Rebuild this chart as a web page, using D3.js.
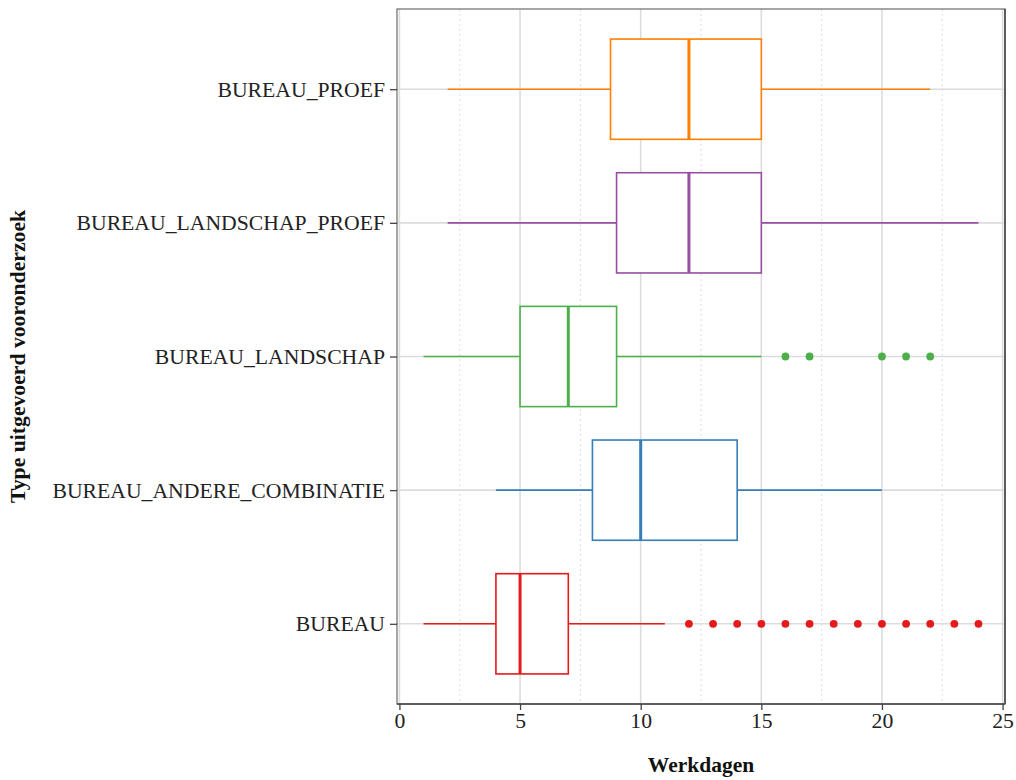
<!DOCTYPE html>
<html><head><meta charset="utf-8">
<script src="https://cdn.jsdelivr.net/npm/d3@7"></script>
<style>body{margin:0;background:#fff}svg{display:block}</style>
</head><body>
<script>
const categories = ["BUREAU", "BUREAU_ANDERE_COMBINATIE", "BUREAU_LANDSCHAP", "BUREAU_LANDSCHAP_PROEF", "BUREAU_PROEF"];
const colors = ["#E41A1C", "#377EB8", "#4DAF4A", "#984EA3", "#FF7F00"];
const whiskerLow = [1, 4, 1, 2, 2];
const q1 = [4, 8, 5, 9, 8.75];
const median = [5, 10, 7, 12, 12];
const q3 = [7, 14, 9, 15, 15];
const whiskerHigh = [11, 20, 15, 24, 22];
const outliers = [
  [12, 13, 14, 15, 16, 17, 18, 19, 20, 21, 22, 23, 24],
  [],
  [16, 17, 20, 21, 22],
  [],
  []
];
const xTicks = [0, 5, 10, 15, 20, 25];
const xMinor = [2.5, 7.5, 12.5, 17.5, 22.5];

const W = 1016, H = 780;
const m = {left: 397, right: 11, top: 9, bottom: 76};
const svg = d3.select("body").append("svg").attr("width", W).attr("height", H);
const pw = W - m.left - m.right, ph = H - m.top - m.bottom;
const g = svg.append("g").attr("transform", `translate(${m.left},${m.top})`);
const FONT = "'Liberation Serif', 'Times New Roman', serif";

const x = d3.scaleLinear().domain([-0.1, 25.1]).range([0, pw]);
const y = d3.scalePoint().domain(categories.slice().reverse()).range([0, ph]).padding(0.6);
const step = y.step();
const bw = step * 0.75;

// grid
g.selectAll(".minor").data(xMinor).join("line")
  .attr("x1", d => x(d)).attr("x2", d => x(d)).attr("y1", 0).attr("y2", ph)
  .attr("stroke", "#d4d4d4").attr("stroke-width", 0.8).attr("stroke-dasharray", "2,3");
g.selectAll(".major").data(xTicks).join("line")
  .attr("x1", d => x(d)).attr("x2", d => x(d)).attr("y1", 0).attr("y2", ph)
  .attr("stroke", "#dcdcdc").attr("stroke-width", 1.6);
g.selectAll(".hgrid").data(categories).join("line")
  .attr("x1", 0).attr("x2", pw).attr("y1", d => y(d)).attr("y2", d => y(d))
  .attr("stroke", "#dcdcdc").attr("stroke-width", 1.6);

// boxes
categories.forEach((c, i) => {
  const cy = y(c), col = colors[i];
  const gg = g.append("g").attr("stroke", col).attr("fill", "none");
  gg.append("line").attr("x1", x(whiskerLow[i])).attr("x2", x(q1[i])).attr("y1", cy).attr("y2", cy).attr("stroke-width", 1.6);
  gg.append("line").attr("x1", x(q3[i])).attr("x2", x(whiskerHigh[i])).attr("y1", cy).attr("y2", cy).attr("stroke-width", 1.6);
  gg.append("rect").attr("x", x(q1[i])).attr("y", cy - bw / 2).attr("width", x(q3[i]) - x(q1[i])).attr("height", bw)
    .attr("fill", "#fff").attr("stroke-width", 1.6);
  gg.append("line").attr("x1", x(median[i])).attr("x2", x(median[i])).attr("y1", cy - bw / 2).attr("y2", cy + bw / 2).attr("stroke-width", 3);
  g.selectAll(null).data(outliers[i]).join("circle")
    .attr("cx", d => x(d)).attr("cy", cy).attr("r", 3.9).attr("fill", col);
});

// border
g.append("rect").attr("x", 0).attr("y", 0).attr("width", pw).attr("height", ph)
  .attr("fill", "none").attr("stroke", "#777").attr("stroke-width", 1.3);
g.append("line").attr("x1", 0).attr("x2", pw).attr("y1", ph).attr("y2", ph).attr("stroke", "#444").attr("stroke-width", 1.5);
g.append("line").attr("x1", pw).attr("x2", pw).attr("y1", 0).attr("y2", ph).attr("stroke", "#444").attr("stroke-width", 1.5);

// axes
const xa = g.append("g").attr("transform", `translate(0,${ph})`)
  .call(d3.axisBottom(x).tickValues(xTicks).tickSize(6).tickPadding(3));
xa.select(".domain").remove();
xa.selectAll("line").attr("stroke", "#444").attr("stroke-width", 1.3);
xa.selectAll("text").attr("font-family", FONT).attr("font-size", 21.7).attr("fill", "#222");

const ya = g.append("g").call(d3.axisLeft(y).tickSize(7).tickPadding(5));
ya.select(".domain").remove();
ya.selectAll("line").attr("stroke", "#444").attr("stroke-width", 1.3);
ya.selectAll("text").attr("font-family", FONT).attr("font-size", 21.7).attr("fill", "#222");

svg.append("text").attr("x", m.left + pw / 2).attr("y", 772).attr("text-anchor", "middle")
  .attr("font-family", FONT).attr("font-size", 21.5).attr("font-weight", "bold").attr("fill", "#111")
  .text("Werkdagen");
svg.append("text").attr("transform", `translate(25,${m.top + ph / 2}) rotate(-90)`).attr("text-anchor", "middle")
  .attr("font-family", FONT).attr("font-size", 21.7).attr("font-weight", "bold").attr("fill", "#111")
  .text("Type uitgevoerd vooronderzoek");
</script>
</body></html>
